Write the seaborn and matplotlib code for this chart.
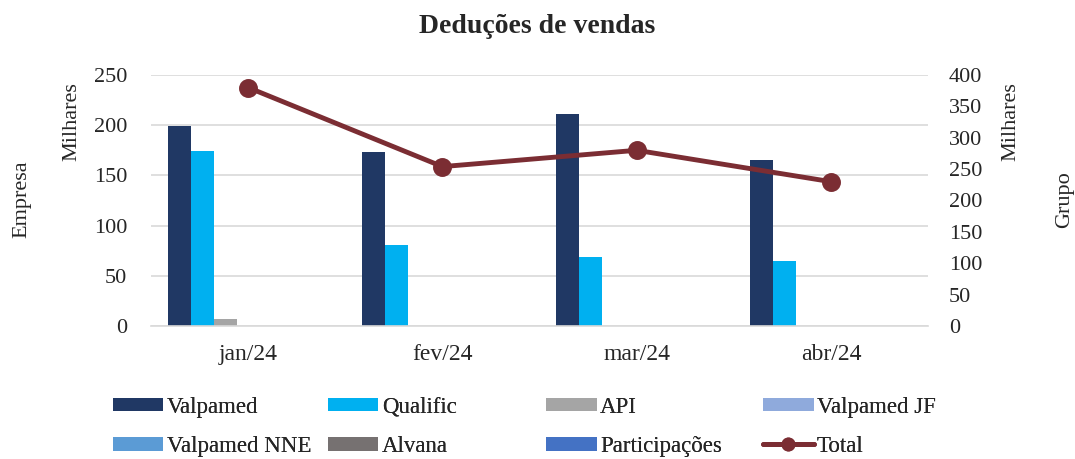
import pandas as pd
import matplotlib
matplotlib.use("Agg")
import matplotlib.pyplot as plt
from matplotlib.patches import Patch
from matplotlib.lines import Line2D
import seaborn as sns

sns.set_style("white")
plt.rcParams["font.family"] = ["Liberation Serif", "DejaVu Serif"]

months = ["jan/24", "fev/24", "mar/24", "abr/24"]
series = ["Valpamed", "Qualific", "API", "Valpamed JF",
          "Valpamed NNE", "Alvana", "Participações"]
valpamed = [199, 173, 211, 165]
qualific = [174, 81, 69, 65]
api = [7, 0, 0, 0]
valpamed_jf = [0, 0, 0, 0]
valpamed_nne = [0, 0, 0, 0]
alvana = [0, 0, 0, 0]
participacoes = [0, 0, 0, 0]
total = [380, 254, 280, 230]

colors = ["#203864", "#00B0F0", "#A5A5A5", "#8FAADC",
          "#5B9BD5", "#767171", "#4472C4"]
total_color = "#7B2D33"

values = [valpamed, qualific, api, valpamed_jf, valpamed_nne, alvana, participacoes]
df = pd.DataFrame(
    [(m, s, v) for s, vals in zip(series, values) for m, v in zip(months, vals)],
    columns=["Mes", "Serie", "Valor"],
)

fig = plt.figure(figsize=(10.75, 4.59), dpi=100)
ax = fig.add_axes([0.1405, 0.2898, 0.7228, 0.5468])

sns.barplot(data=df, x="Mes", y="Valor", hue="Serie", order=months,
            hue_order=series, palette=colors, width=0.83, ax=ax,
            legend=False, saturation=1, linewidth=0)

ax.set_ylim(0, 250)
ax.set_yticks(range(0, 251, 50))
ax.yaxis.grid(True, color="#D9D9D9", linewidth=1.2)
ax.set_axisbelow(True)
for s in ["top", "right", "left"]:
    ax.spines[s].set_visible(False)
ax.spines["bottom"].set_color("#D9D9D9")
ax.spines["bottom"].set_linewidth(1.2)
ax.set_xlabel("")
ax.set_ylabel("")
ax.tick_params(axis="y", length=0, labelsize=16, pad=17)
ax.tick_params(axis="x", length=0, labelsize=17, pad=13)
# category boundary ticks
ax.set_xticks([-0.5, 0.5, 1.5, 2.5, 3.5], minor=True)
ax.tick_params(axis="x", which="minor", length=7, color="#D9D9D9", width=1.2)

ax2 = ax.twinx()
sns.pointplot(x=months, y=total, ax=ax2, color=total_color,
              markers="o", markersize=11, linewidth=3.5)
ax2.set_ylim(0, 400)
ax2.set_yticks(range(0, 401, 50))
ax2.set_xlim(ax.get_xlim())
for s in ax2.spines.values():
    s.set_visible(False)
ax2.tick_params(axis="y", length=0, labelsize=16, pad=15)
ax2.set_ylabel("")

fig.text(0.5, 0.942, "Deduções de vendas", ha="center", va="center",
         fontsize=20, fontweight="bold")
fig.text(0.067, 0.735, "Milhares", rotation=90, ha="center", va="center", fontsize=16)
fig.text(0.02, 0.565, "Empresa", rotation=90, ha="center", va="center", fontsize=16)
fig.text(0.94, 0.735, "Milhares", rotation=90, ha="center", va="center", fontsize=16)
fig.text(0.99, 0.565, "Grupo", rotation=90, ha="center", va="center", fontsize=16)

# legend: four columns placed like the reference, row-major order
handles = [Patch(facecolor=c, edgecolor="none") for c in colors]
handles.append(Line2D([0], [0], color=total_color, linewidth=3.5,
                      marker="o", markersize=9))
labels = series + ["Total"]
col_x = [0.105, 0.305, 0.508, 0.71]
for i, x in enumerate(col_x):
    leg = fig.legend([handles[i], handles[i + 4]], [labels[i], labels[i + 4]],
                     loc="upper left", bbox_to_anchor=(x, 0.136), frameon=False,
                     fontsize=16.5, handlelength=2.2, handleheight=0.55,
                     handletextpad=0.15, labelspacing=0.8, borderpad=0,
                     borderaxespad=0)
    fig.add_artist(leg)

plt.savefig("out.png", dpi=100)
plt.close()
